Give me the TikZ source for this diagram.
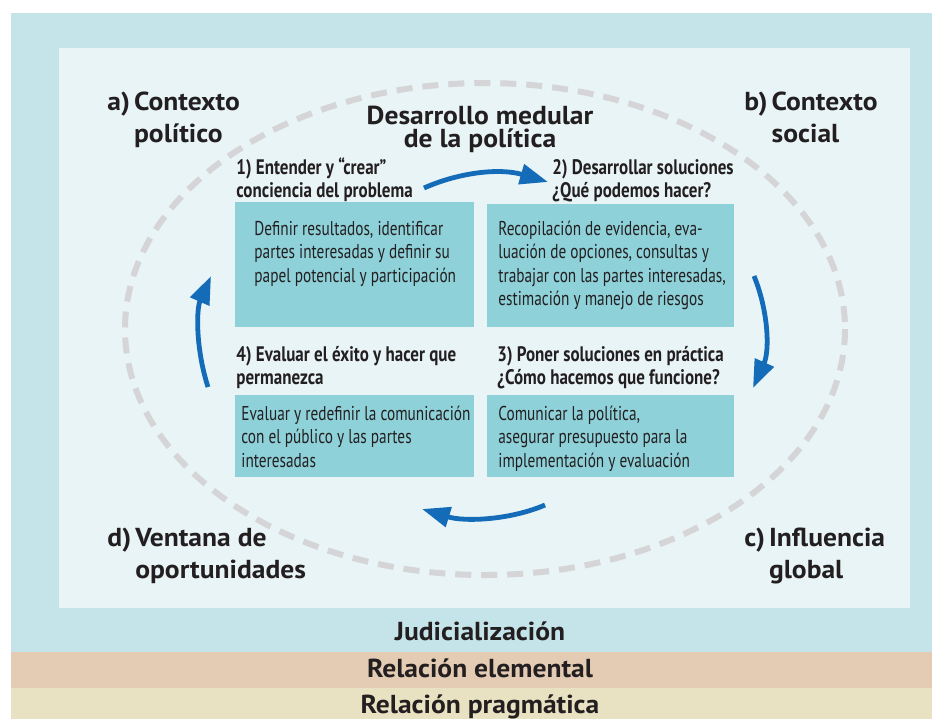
\documentclass[tikz,border=0pt]{standalone}
\usepackage{fontspec}
\setmainfont{PT Sans}
\newfontfamily\narrowfont[FakeStretch=0.765]{PT Sans}
\newfontfamily\headfont[FakeStretch=0.81]{PT Sans}
\newfontfamily\widefont[FakeStretch=1.06]{PT Sans}
\usetikzlibrary{arrows.meta}
\definecolor{bandblue}{HTML}{C5E4E9}
\definecolor{panelblue}{HTML}{E8F4F6}
\definecolor{boxblue}{HTML}{8ED1D9}
\definecolor{bandtan}{HTML}{E4CBB4}
\definecolor{bandcream}{HTML}{E8E2C2}
\definecolor{arrowblue}{HTML}{146CB8}
\definecolor{dashgray}{HTML}{D5D5D7}
\definecolor{ink}{HTML}{231F20}
\begin{document}
\begin{tikzpicture}[x=0.5pt,y=-0.5pt,line join=round,line cap=round,>={Triangle[length=14pt,width=10pt]},
	box/.style={fill=boxblue,anchor=north west,inner sep=0pt},
	stephead/.style={anchor=base west,align=left,inner sep=0pt,text=ink,font=\headfont\bfseries\fontsize{10.5}{11.5}\selectfont},
	boxtext/.style={anchor=base west,align=left,inner sep=0pt,text=ink,font=\narrowfont\fontsize{10}{11.75}\selectfont},
	context/.style={anchor=base west,inner sep=0pt,text=ink,font=\widefont\bfseries\fontsize{13}{16}\selectfont},
	bandlabel/.style={anchor=base,inner sep=0pt,text=ink,font=\widefont\bfseries\fontsize{13}{15}\selectfont},
	cycle/.style={->,draw=arrowblue,line width=2.4pt,line cap=butt}]
	\useasboundingbox (0,0) rectangle (932,719);
	\fill[bandblue] (11,13) rectangle (932,652);
	\fill[panelblue] (59,48) rectangle (910,608);
	\fill[bandtan] (11,652) rectangle (932,688);
	\fill[bandcream] (11,688) rectangle (932,719);
	\draw[dashgray,line width=3pt,line cap=butt,dash pattern=on 8pt off 5pt] (485,329) ellipse [x radius=360,y radius=246];
	\path
	(424,188) coordinate(A1)
	(548,182) coordinate(A2)
	(754,276) coordinate(B1)
	(753,388) coordinate(B2)
	(545,505) coordinate(C1)
	(422,509) coordinate(C2)
	(208,387) coordinate(D1)
	(211,276) coordinate(D2)
	;
	\draw[cycle] (A1) .. controls (460,172) and (500,168) .. (A2);
	\draw[cycle] (B1) .. controls (768,310) and (770,350) .. (B2);
	\draw[cycle] (C1) .. controls (510,520) and (465,522) .. (C2);
	\draw[cycle] (D1) .. controls (196,350) and (196,310) .. (D2);
	\node[box,minimum width=119.5pt,minimum height=62.5pt] (b1) at (235,202) {};
	\node[box,minimum width=123.5pt,minimum height=61.5pt] (b2) at (487,204) {};
	\node[box,minimum width=123.5pt,minimum height=41pt] (b3) at (487,395) {};
	\node[box,minimum width=119.5pt,minimum height=41pt] (b4) at (235,395) {};
	\node[stephead] (h1) at (236,197) {1) Entender y “crear”\\conciencia del problema};
	\node[stephead] (h2) at (552,197) {2) Desarrollar soluciones\\¿Qué podemos hacer?};
	\node[stephead] (h3) at (497,384) {3) Poner soluciones en práctica\\¿Cómo hacemos que funcione?};
	\node[stephead] (h4) at (236,384) {4) Evaluar el éxito y hacer que\\permanezca};
	\node[boxtext] (t1) at (254,282) {Definir resultados, identificar\\partes interesadas y definir su\\papel potencial y participación};
	\node[boxtext] (t2) at (498,305.5) {Recopilación de evidencia, eva-\\luación de opciones, consultas y\\trabajar con las partes interesadas,\\estimación y manejo de riesgos};
	\node[boxtext] (t3) at (498,467) {Comunicar la política,\\asegurar presupuesto para la\\implementación y evaluación};
	\node[boxtext] (t4) at (241,467) {Evaluar y redefinir la comunicación\\con el público y las partes\\interesadas};
	\node[anchor=base,align=center,inner sep=0pt,text=ink,font=\widefont\bfseries\fontsize{13}{11.5}\selectfont] (core) at (480,147) {Desarrollo medular\\de la política};
	\foreach \n/\x/\y/\l/\a/\b in {ctxa/107/110/a)/Contexto/político,ctxb/744/110/b)/Contexto/social,ctxc/744/546/c)/Influencia/global,ctxd/107/546/d)/Ventana de/oportunidades}
	\node[context] (\n) at (\x,\y) {\begin{tabular}[t]{@{}l@{\hspace{2pt}}l@{}}\l&\a\\&\b\end{tabular}};
	\foreach \n/\y/\t in {judi/640/Judicialización,elem/677/Relación elemental,prag/713/Relación pragmática}
	\node[bandlabel] (\n) at (480,\y) {\t};
\end{tikzpicture}
\end{document}
